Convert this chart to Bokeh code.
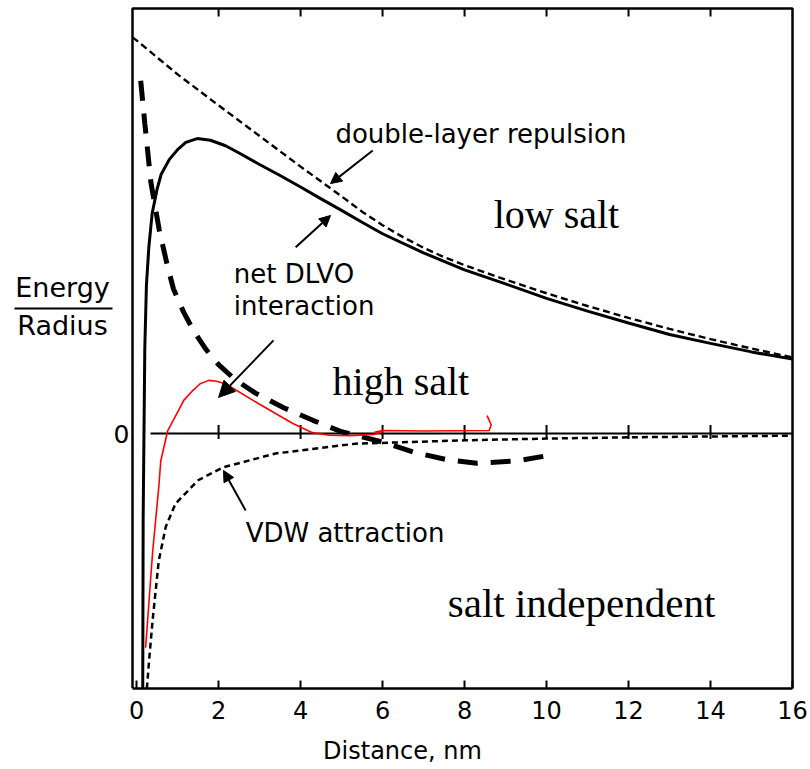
from bokeh.plotting import figure
from bokeh.models import Range1d, FixedTicker, Label, Arrow, NormalHead
from bokeh.embed import file_html
from bokeh.resources import INLINE

# ---------------- data ----------------
x_ticks = [0, 2, 4, 6, 8, 10, 12, 14, 16]
inner_ticks = [2, 4, 6, 8, 10, 12, 14]

# double-layer repulsion (thin dashed)
dl_x = [-0.1, 0, 1, 2, 3, 4, 5, 5.5, 6, 6.5, 7, 7.5, 8, 9, 10, 11, 12, 13, 14, 15, 16]
dl_y = [9.32, 9.25, 8.45, 7.72, 7.0, 6.28, 5.58, 5.22, 4.9, 4.62, 4.37, 4.15, 3.96, 3.62, 3.3, 3.0, 2.72, 2.46, 2.22, 2.0, 1.79]

# net DLVO interaction, low salt (solid)
low_x = [0.15, 0.16, 0.18, 0.2, 0.24, 0.3, 0.38, 0.5, 0.6, 0.8, 1.0, 1.2, 1.48, 1.8, 2.17, 2.5, 3.0, 3.5, 4.0,
         4.5, 5.0, 5.5, 6.0, 7.0, 8.0, 9.0, 10.0, 11.0, 12.0, 13.0, 14.0, 15.0, 16.0]
low_y = [-6.0, -2.0, 0.0, 2.0, 3.5, 4.4, 5.18, 5.75, 6.1, 6.45, 6.68, 6.85, 6.94, 6.9, 6.77, 6.6, 6.33, 6.07, 5.8,
         5.52, 5.25, 4.97, 4.7, 4.25, 3.85, 3.52, 3.18, 2.88, 2.6, 2.33, 2.12, 1.92, 1.75]

# VDW attraction (thin dashed)
vdw_x = [0.25, 0.3, 0.39, 0.54, 0.71, 0.95, 1.5, 2.1, 3.39, 5.34, 8.0, 10.0, 12.0, 14.0, 16.0]
vdw_y = [-6.0, -5.4, -4.4, -3.0, -2.2, -1.65, -1.1, -0.8, -0.47, -0.24, -0.16, -0.12, -0.09, -0.07, -0.05]

# net DLVO, high salt (thick dashed)
high_x = [0.1, 0.2, 0.35, 0.55, 0.75, 0.9, 1.15, 1.4, 1.7, 2.0, 2.4, 2.9, 3.6, 4.3, 5.0, 5.5, 6.0, 6.76, 7.58,
          8.3, 9.3, 10.15]
high_y = [8.3, 7.3, 5.9, 4.8, 3.95, 3.4, 2.85, 2.4, 1.97, 1.62, 1.27, 0.95, 0.6, 0.31, 0.04, -0.08, -0.2, -0.44,
          -0.62, -0.7, -0.64, -0.5]

# hand-drawn red curve
red_x = [0.22, 0.39, 0.54, 0.59, 0.76, 1.02, 1.15, 1.37, 1.55, 1.76, 1.95, 2.17, 2.98, 3.8, 4.29, 4.7, 5.2, 5.8,
         6.0, 5.8, 6.0, 7.0, 8.6, 8.65, 8.55]
red_y = [-5.04, -2.8, -1.27, -0.64, 0.07, 0.54, 0.78, 1.01, 1.17, 1.25, 1.23, 1.17, 0.7, 0.24, 0.02, -0.04, -0.05,
         -0.02, 0.04, 0.03, 0.07, 0.06, 0.07, 0.2, 0.42]

# zero line
zero_x = [0.34, 16.0]
zero_y = [0.0, 0.0]

# ---------------- layout ----------------
BOX_X0, BOX_X1 = -0.1, 16.0      # drawn box in data units
BOX_Y0, BOX_Y1 = -6.0, 10.0
W, H = 810, 769
BOX_L, BOX_R, BOX_T, BOX_B = 132, 792, 8, 688   # box edges in pixels
SX = (BOX_R - BOX_L) / (BOX_X1 - BOX_X0)
SY = (BOX_B - BOX_T) / (BOX_Y1 - BOX_Y0)
FR_L, FR_R, FR_T = 4, 800, 2
X_LO = BOX_X0 - (BOX_L - FR_L) / SX
X_HI = BOX_X1 + (FR_R - BOX_R) / SX
Y_HI = BOX_Y1 + (BOX_T - FR_T) / SY


def px2x(px):
    return BOX_X0 + (px - BOX_L) / SX


def py2y(py):
    return BOX_Y1 - (py - BOX_T) / SY


SANS = "DejaVu Sans"
SERIF = "Liberation Serif"

p = figure(width=W, height=H, output_backend="svg", toolbar_location=None,
           x_range=Range1d(X_LO, X_HI), y_range=Range1d(BOX_Y0, Y_HI),
           y_axis_location=None,
           min_border_left=FR_L, min_border_right=W - FR_R, min_border_top=FR_T,
           min_border_bottom=H - BOX_B)
p.grid.visible = False
p.outline_line_color = None
p.background_fill_color = "white"
p.border_fill_color = "white"

# x axis (only along the box)
p.xaxis.bounds = (BOX_X0, BOX_X1)
p.xaxis.ticker = FixedTicker(ticks=x_ticks)
p.xaxis.major_tick_in = 8
p.xaxis.major_tick_out = 0
p.xaxis.major_tick_line_width = 2
p.xaxis.minor_tick_line_color = None
p.xaxis.axis_line_width = 2.5
p.xaxis.major_label_standoff = 12
p.xaxis.major_label_text_font = SANS
p.xaxis.major_label_text_font_size = "24px"
p.xaxis.major_label_text_color = "black"
p.xaxis.axis_label = "Distance, nm"
p.xaxis.axis_label_text_font = SANS
p.xaxis.axis_label_text_font_size = "24px"
p.xaxis.axis_label_text_font_style = "normal"
p.xaxis.axis_label_text_color = "black"
p.xaxis.axis_label_standoff = 15

# box: left, top, right edges
p.line([BOX_X0, BOX_X0, BOX_X1, BOX_X1], [BOX_Y0, BOX_Y1, BOX_Y1, BOX_Y0], line_color="black", line_width=2.5)

# top inward ticks and ticks on the zero line
tick_len = 8 / SY
p.segment(x0=inner_ticks, y0=[BOX_Y1] * len(inner_ticks), x1=inner_ticks,
          y1=[BOX_Y1 - tick_len] * len(inner_ticks), line_color="black", line_width=2)
p.line(zero_x, zero_y, line_color="black", line_width=2)
p.segment(x0=inner_ticks, y0=[-0.13] * len(inner_ticks), x1=inner_ticks, y1=[0.2] * len(inner_ticks),
          line_color="black", line_width=2)

# curves
p.line(dl_x, dl_y, line_color="black", line_width=2.4, line_dash="7 4")
p.line(low_x, low_y, line_color="black", line_width=3)
p.line(vdw_x, vdw_y, line_color="black", line_width=2.5, line_dash="6 4")
p.line(high_x, high_y, line_color="black", line_width=5, line_dash="20 13")
p.line(red_x, red_y, line_color="#ff0000", line_width=1.6)


# annotations (text); y is the baseline, corrected for the renderer's text offset
def add_label(x, y, text, font, px, align="left", baseline="alphabetic"):
    if baseline == "alphabetic":
        y = y + 0.36 * px / SY
    p.add_layout(Label(x=x, y=y, text=text, text_font=font, text_font_size=f"{px}px",
                       text_color="black", text_align=align, text_baseline=baseline))


add_label(4.85, 6.82, "double-layer repulsion", SANS, 26)
add_label(2.37, 3.53, "net DLVO", SANS, 26)
add_label(2.37, 2.78, "interaction", SANS, 26)
add_label(2.66, -2.56, "VDW attraction", SANS, 26)
add_label(8.71, 4.82, "low salt", SERIF, 40)
add_label(4.78, 0.89, "high salt", SERIF, 40)
add_label(7.59, -4.33, "salt independent", SERIF, 41)

# y tick label "0"
add_label(px2x(BOX_L - 3), 0.0, "0", SANS, 25, align="right", baseline="middle")

# y title as a fraction
add_label(px2x(62), py2y(297), "Energy", SANS, 27, align="center")
add_label(px2x(62), py2y(335), "Radius", SANS, 27, align="center")
p.line([px2x(14), px2x(112)], [py2y(308), py2y(308)], line_color="black", line_width=2)


# arrows
def add_arrow(xs, ys, xe, ye, size, lw):
    p.add_layout(Arrow(end=NormalHead(size=size, fill_color="black", line_color="black"),
                       x_start=xs, y_start=ys, x_end=xe, y_end=ye,
                       line_color="black", line_width=lw))


add_arrow(5.76, 6.66, 4.73, 5.88, 11, 2)
add_arrow(3.88, 4.38, 4.73, 5.13, 11, 2)
add_arrow(3.34, 2.19, 2.0, 0.85, 16, 2)
add_arrow(2.66, -1.81, 2.12, -0.87, 11, 2)

open("out.html", "w").write(file_html(p, INLINE))
